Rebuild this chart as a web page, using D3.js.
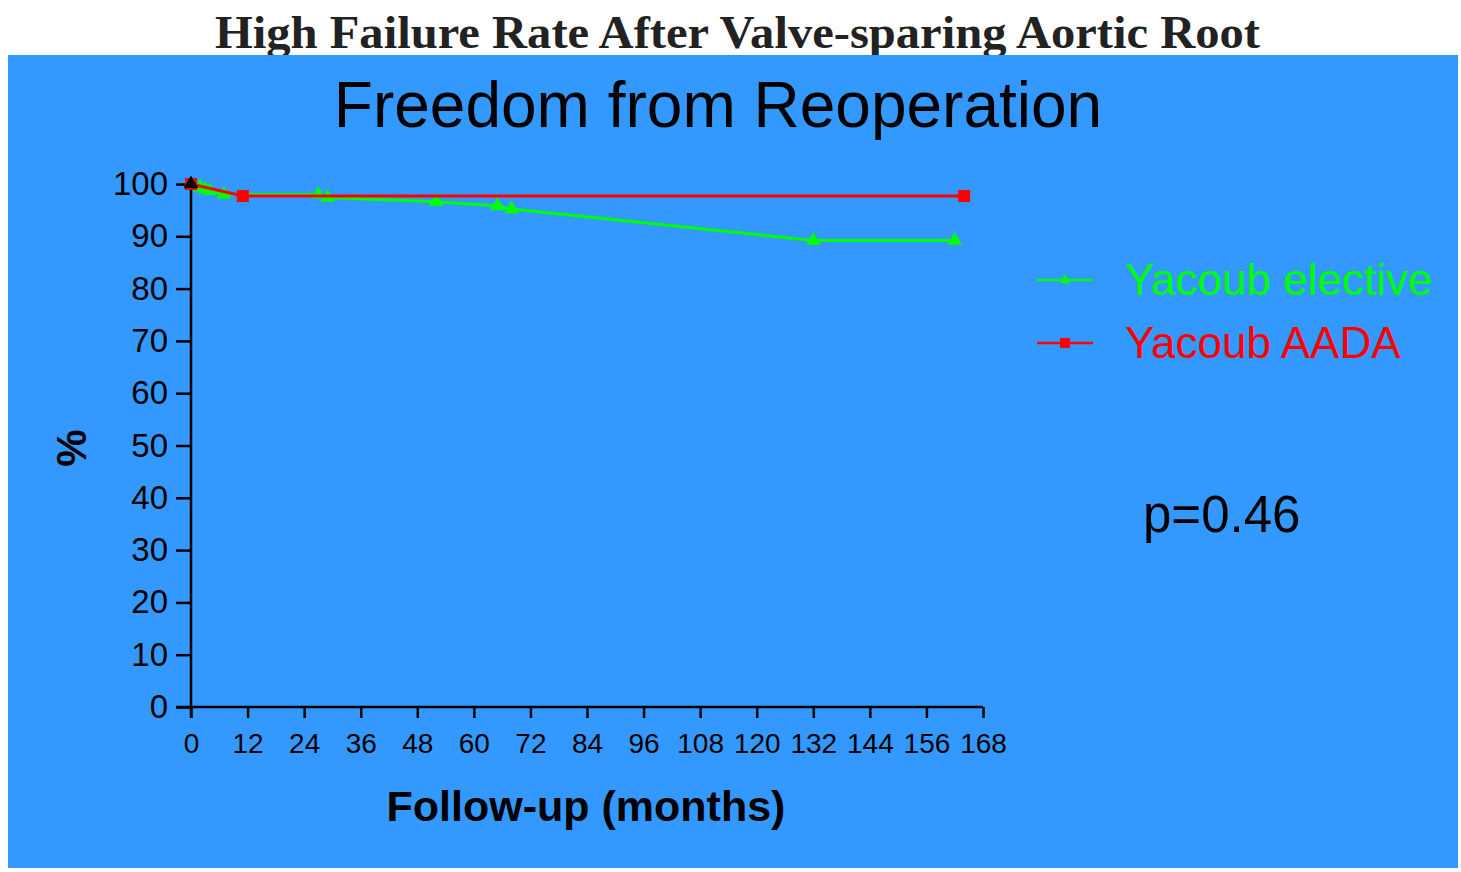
<!DOCTYPE html>
<html>
<head>
<meta charset="utf-8">
<script src="https://cdn.jsdelivr.net/npm/d3@7"></script>
<style>
  html, body { margin: 0; padding: 0; background: #fff; }
  svg { display: block; }
</style>
</head>
<body>
<svg id="chart" width="1461" height="872"></svg>
<script>
// months / freedom from reoperation (%)
var electiveMonths = [0, 2, 3, 4, 7, 27, 29, 52, 65, 68, 132, 162];
var electiveValues = [100, 99.4, 99.0, 98.7, 98.0, 98.0, 97.4, 96.6, 95.8, 95.2, 89.2, 89.2];
var aadaMonths = [0, 11, 164];
var aadaValues = [100, 97.7, 97.7];
var xTicks = d3.range(0, 169, 12);
var yTicks = d3.range(0, 101, 10);
var seriesNames = ["Yacoub elective", "Yacoub AADA"];

var svg = d3.select("#chart");

// serif headline, partly covered by the blue slide
svg.append("text")
    .attr("x", 215).attr("y", 48)
    .attr("textLength", 1045).attr("lengthAdjust", "spacingAndGlyphs")
    .style("font-family", "'Liberation Serif', 'DejaVu Serif', serif")
    .style("font-weight", "bold").style("font-size", "46px")
    .attr("fill", "#222")
    .text("High Failure Rate After Valve-sparing Aortic Root");

svg.append("rect")
    .attr("x", 8).attr("y", 55).attr("width", 1450).attr("height", 813)
    .attr("fill", "#3399ff");

var font = "'Liberation Sans', Arial, sans-serif";

svg.append("text")
    .attr("x", 718).attr("y", 127).attr("text-anchor", "middle")
    .style("font-family", font)
    .style("font-size", "64px").attr("fill", "#000")
    .text("Freedom from Reoperation");

var x = d3.scaleLinear().domain([0, 168]).range([191, 983]);
var y = d3.scaleLinear().domain([0, 100]).range([707, 184]);

// y axis
var yAxis = svg.append("g").attr("transform", "translate(191,0)")
    .call(d3.axisLeft(y).tickValues(yTicks).tickSize(15).tickPadding(8));
yAxis.select(".domain").attr("d", "M0," + 184 + "V" + 718);
yAxis.selectAll("text").style("font-family", font).style("font-size", "33px").attr("fill", "#000");

// x axis
var xAxis = svg.append("g").attr("transform", "translate(0,707)")
    .call(d3.axisBottom(x).tickValues(xTicks).tickSize(11).tickPadding(15));
xAxis.select(".domain").attr("d", "M176,0H983");
xAxis.selectAll("text").style("font-family", font).style("font-size", "28px").attr("fill", "#000");

svg.selectAll(".domain, .tick line").attr("stroke", "#000").attr("stroke-width", 2.5);

svg.append("text")
    .attr("x", 586).attr("y", 821).attr("text-anchor", "middle")
    .style("font-family", font).style("font-weight", "bold").style("font-size", "43px")
    .text("Follow-up (months)");

svg.append("text")
    .attr("transform", "translate(86,448) rotate(-90)").attr("text-anchor", "middle")
    .style("font-family", font).style("font-weight", "bold").style("font-size", "42px")
    .text("%");

var line = d3.line().x(function (d) { return x(d[0]); }).y(function (d) { return y(d[1]); });
var tri = d3.symbol().type(d3.symbolTriangle).size(95);

var elective = electiveMonths.map(function (m, i) { return [m, electiveValues[i]]; });
var aada = aadaMonths.map(function (m, i) { return [m, aadaValues[i]]; });

svg.append("path").datum(elective).attr("d", line)
    .attr("fill", "none").attr("stroke", "#00ff00").attr("stroke-width", 3);
svg.selectAll(".tri").data(elective.slice(1)).enter().append("path")
    .attr("transform", function (d) { return "translate(" + x(d[0]) + "," + y(d[1]) + ")"; })
    .attr("d", tri).attr("fill", "#00ff00");

svg.append("path").datum(aada).attr("d", line)
    .attr("fill", "none").attr("stroke", "#ff0000").attr("stroke-width", 3);
svg.selectAll(".sq").data(aada).enter().append("rect")
    .attr("x", function (d) { return x(d[0]) - 6; })
    .attr("y", function (d) { return y(d[1]) - 6; })
    .attr("width", 12).attr("height", 12).attr("fill", "#ff0000");

// black triangle at origin
svg.append("path")
    .attr("transform", "translate(" + x(0) + "," + y(100) + ")")
    .attr("d", tri).attr("fill", "#000");

// legend
var legColors = ["#00ff00", "#ff0000"];
var leg = svg.selectAll(".leg").data(seriesNames).enter().append("g")
    .attr("transform", function (d, i) { return "translate(0," + (280 + i * 63) + ")"; });
leg.append("line").attr("x1", 1037).attr("x2", 1093)
    .attr("stroke", function (d, i) { return legColors[i]; }).attr("stroke-width", 2.5);
leg.each(function (d, i) {
    var g = d3.select(this);
    if (i === 0) {
        g.append("path").attr("transform", "translate(1065,0)")
            .attr("d", d3.symbol().type(d3.symbolTriangle).size(45)).attr("fill", legColors[i]);
    } else {
        g.append("rect").attr("x", 1060).attr("y", -5).attr("width", 10).attr("height", 10)
            .attr("fill", legColors[i]);
    }
});
leg.append("text").attr("x", 1125).attr("y", 15)
    .style("font-family", font).style("font-size", "44px")
    .attr("fill", function (d, i) { return legColors[i]; })
    .text(function (d) { return d; });

svg.append("text")
    .attr("x", 1143).attr("y", 532)
    .style("font-family", font).style("font-size", "51px")
    .text("p=0.46");
</script>
</body>
</html>
